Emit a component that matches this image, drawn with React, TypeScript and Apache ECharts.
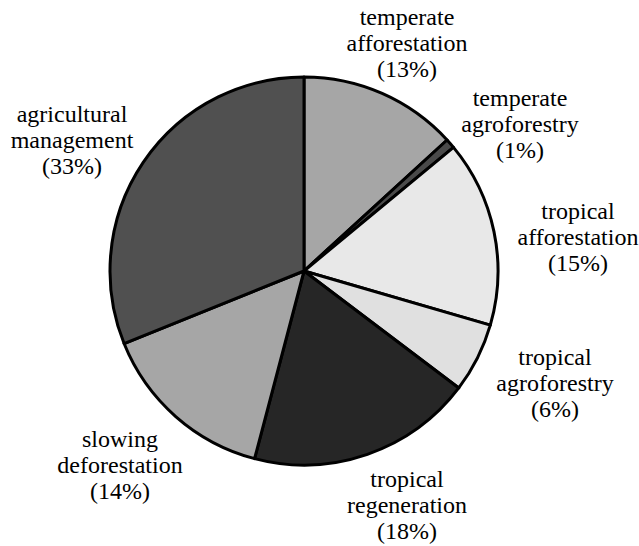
import React, { useEffect, useRef } from "react";
import * as echarts from "echarts";

const categories = [
  "temperate afforestation",
  "temperate agroforestry",
  "tropical afforestation",
  "tropical agroforestry",
  "tropical regeneration",
  "slowing deforestation",
  "agricultural management",
];
const sliceValues = [13.2, 0.8, 15.5, 5.8, 18.8, 14.8, 31.1];
// percentages as printed on the labels
const percentLabels = [13, 1, 15, 6, 18, 14, 33];

const COLORS = ["#a6a6a6", "#4a4a4a", "#e8e8e8", "#e0e0e0", "#262626", "#a6a6a6", "#505050"];
// label centre positions (px) in the chart container
const LABEL_CENTERS: [number, number][] = [
  [407, 43],
  [520, 124],
  [578, 237],
  [555, 383],
  [407, 505],
  [120, 465],
  [72, 140],
];

const FONT = "'Liberation Serif', 'Times New Roman', serif";

export default function App() {
  const ref = useRef<HTMLDivElement>(null);
  useEffect(() => {
    if (!ref.current) return;
    const chart = echarts.init(ref.current, null, { renderer: "svg" });
    chart.setOption({
      animation: false,
      backgroundColor: "#ffffff",
      series: [
        {
          type: "pie",
          center: [304, 271],
          radius: [0, 194],
          startAngle: 90,
          clockwise: true,
          avoidLabelOverlap: false,
          itemStyle: { borderColor: "#000", borderWidth: 3 },
          emphasis: { disabled: true },
          label: {
            show: true,
            position: "outside",
            fontFamily: FONT,
            fontSize: 24,
            lineHeight: 26,
            color: "#000",
            align: "center",
            formatter: (p: any) =>
              p.name.replace(" ", "\n") + "\n(" + percentLabels[p.dataIndex] + "%)",
          },
          labelLine: { show: false },
          labelLayout: (p: any) => {
            const c = LABEL_CENTERS[p.dataIndex];
            return { x: c[0], y: c[1], align: "center", verticalAlign: "middle" };
          },
          data: categories.map((name, i) => ({
            name,
            value: sliceValues[i],
            itemStyle: { color: COLORS[i] },
          })),
        },
      ],
    });
    return () => chart.dispose();
  }, []);
  return (
    <div
      ref={ref}
      style={{ position: "fixed", left: 0, top: 0, width: 639, height: 546 }}
    />
  );
}
